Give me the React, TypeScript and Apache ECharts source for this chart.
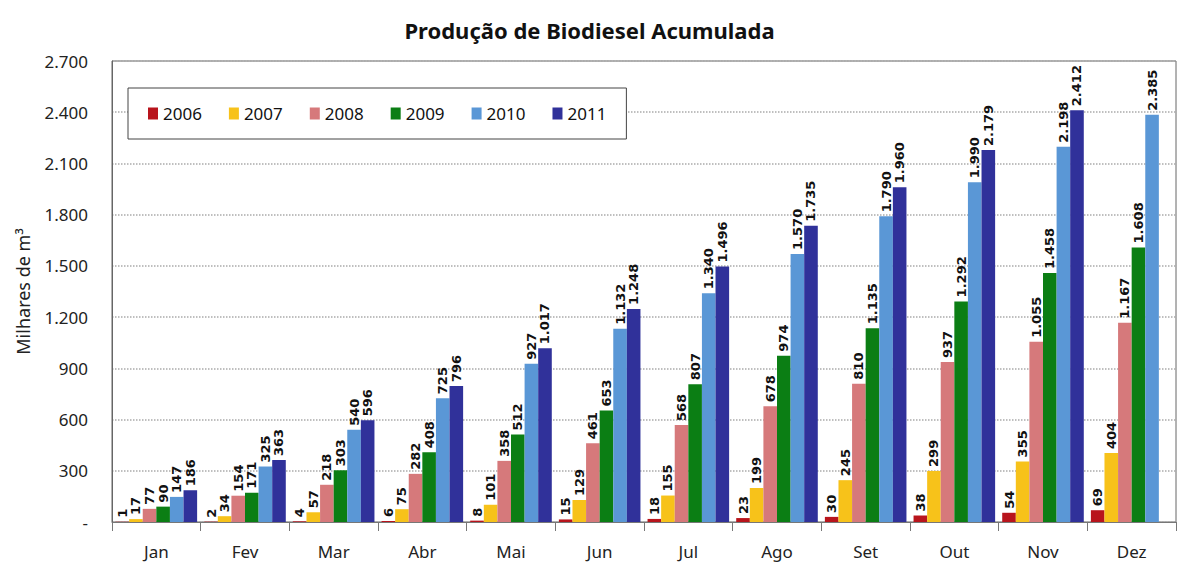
import React, { useEffect, useRef } from "react";
import * as echarts from "echarts";

const categories = ["Jan", "Fev", "Mar", "Abr", "Mai", "Jun", "Jul", "Ago", "Set", "Out", "Nov", "Dez"];
const years = ["2006", "2007", "2008", "2009", "2010", "2011"];
const v2006 = [1, 2, 4, 6, 8, 15, 18, 23, 30, 38, 54, 69];
const v2007 = [17, 34, 57, 75, 101, 129, 155, 199, 245, 299, 355, 404];
const v2008 = [77, 154, 218, 282, 358, 461, 568, 678, 810, 937, 1055, 1167];
const v2009 = [90, 171, 303, 408, 512, 653, 807, 974, 1135, 1292, 1458, 1608];
const v2010 = [147, 325, 540, 725, 927, 1132, 1340, 1570, 1790, 1990, 2198, 2385];
const v2011 = [186, 363, 596, 796, 1017, 1248, 1496, 1735, 1960, 2179, 2412, null];
const seriesValues = [v2006, v2007, v2008, v2009, v2010, v2011];
const colors = ["#b8141c", "#f7c21a", "#d6797b", "#0b7e14", "#5a97d6", "#30319a"];

const fmt = (v: number) => {
  if (v === 0) return "-";
  return String(Math.round(v)).replace(/\B(?=(\d{3})+(?!\d))/g, ".");
};

export default function App() {
  const ref = useRef<HTMLDivElement>(null);
  useEffect(() => {
    document.body.style.margin = "0";
    const chart = echarts.init(ref.current!, null, { renderer: "svg" });
    const font = "'Noto Sans', 'Open Sans', sans-serif";
    chart.setOption({
      animation: false,
      backgroundColor: "#fff",
      title: {
        text: "Produção de Biodiesel Acumulada",
        left: "center",
        top: 14,
        textStyle: { fontFamily: font, fontSize: 22, fontWeight: "bold", color: "#111" },
      },
      legend: {
        data: years,
        left: 128,
        top: 88,
        padding: [17, 20],
        itemWidth: 10,
        itemHeight: 12,
        itemGap: 27,
        borderColor: "#444",
        borderWidth: 1,
        backgroundColor: "#fff",
        icon: "rect",
        textStyle: { fontFamily: font, fontSize: 17, color: "#111" },
      },
      grid: {
        left: 112,
        right: 3,
        top: 61,
        bottom: 48,
        show: true,
        borderColor: "#666",
        borderWidth: 1,
      },
      xAxis: {
        type: "category",
        data: categories,
        axisLine: { lineStyle: { color: "#777" } },
        axisTick: { show: true, length: 9, lineStyle: { color: "#777" } },
        axisLabel: { fontFamily: font, fontSize: 17, color: "#222", margin: 21 },
      },
      yAxis: {
        type: "value",
        min: 0,
        max: 2700,
        interval: 300,
        name: "Milhares de m³",
        nameLocation: "middle",
        nameGap: 80,
        nameTextStyle: { fontFamily: font, fontSize: 18, color: "#222" },
        axisLine: { show: true, lineStyle: { color: "#666" } },
        axisTick: { show: false },
        axisLabel: { fontFamily: font, fontSize: 17, color: "#222", margin: 24, formatter: fmt },
        splitLine: { lineStyle: { color: "#aaa", type: "dotted", width: 1.5 } },
      },
      series: years.map((y, i) => ({
        name: y,
        type: "bar",
        data: seriesValues[i],
        barGap: "0%",
        barCategoryGap: "8%",
        itemStyle: { color: colors[i] },
        label: {
          show: true,
          position: "top",
          rotate: 90,
          align: "left",
          verticalAlign: "middle",
          distance: 4,
          fontFamily: "'DejaVu Sans', sans-serif",
          fontWeight: "bold",
          fontSize: 13,
          color: "#111",
          formatter: (p: any) => fmt(p.value),
        },
      })),
    });
    return () => chart.dispose();
  }, []);
  return <div ref={ref} style={{ width: 1179, height: 570 }} />;
}
